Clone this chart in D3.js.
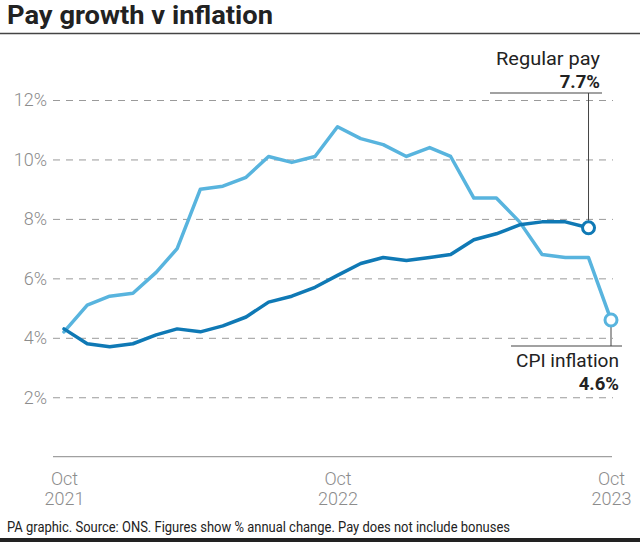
<!DOCTYPE html>
<html><head><meta charset="utf-8">
<script src="https://cdn.jsdelivr.net/npm/d3@7"></script>
<style>
body{margin:0;background:#fff;}
svg{display:block;font-family:Roboto, "Liberation Sans", sans-serif;}
</style></head>
<body>
<svg id="c" width="640" height="542"></svg>
<script>
const months = ["2021-10","2021-11","2021-12","2022-01","2022-02","2022-03","2022-04","2022-05","2022-06","2022-07","2022-08","2022-09","2022-10","2022-11","2022-12","2023-01","2023-02","2023-03","2023-04","2023-05","2023-06","2023-07","2023-08","2023-09","2023-10"];
const cpi = [4.2,5.1,5.4,5.5,6.2,7.0,9.0,9.1,9.4,10.1,9.9,10.1,11.1,10.7,10.5,10.1,10.4,10.1,8.7,8.7,7.9,6.8,6.7,6.7,4.6];
const payMonths = ["2021-10","2021-11","2021-12","2022-01","2022-02","2022-03","2022-04","2022-05","2022-06","2022-07","2022-08","2022-09","2022-10","2022-11","2022-12","2023-01","2023-02","2023-03","2023-04","2023-05","2023-06","2023-07","2023-08","2023-09"];
const regularPay = [4.3,3.8,3.7,3.8,4.1,4.3,4.2,4.4,4.7,5.2,5.4,5.7,6.1,6.5,6.7,6.6,6.7,6.8,7.3,7.5,7.8,7.9,7.9,7.7];
const yTicks = [2,4,6,8,10,12];
const xTickDates = ["2021-10","2022-10","2023-10"];
const xTickLabels = [["Oct","2021"],["Oct","2022"],["Oct","2023"]];
const title = "Pay growth v inflation";
const footer = "PA graphic. Source: ONS. Figures show % annual change. Pay does not include bonuses";
const payLabel = ["Regular pay","7.7%"];
const cpiLabel = ["CPI inflation","4.6%"];

const parse = d3.timeParse("%Y-%m");
const payData = payMonths.map((m,i)=>({d:parse(m), v:regularPay[i]}));
const cpiData = months.map((m,i)=>({d:parse(m), v:cpi[i]}));

const svg = d3.select("#c");
const cpiColor = "#58b4de", payColor = "#0f79b5";

const x = d3.scaleTime().domain([parse("2021-10"), parse("2023-10")]).range([64, 611]);
const y = d3.scaleLinear().domain([0,12]).range([456.7, 100]);

// title
svg.append("text").attr("x",7).attr("y",24).attr("font-size",25).attr("font-weight",700)
  .attr("fill","#222").attr("textLength",266).attr("lengthAdjust","spacingAndGlyphs").text(title);
svg.append("line").attr("x1",0).attr("x2",640).attr("y1",33.5).attr("y2",33.5)
  .attr("stroke","#444").attr("stroke-width",1.6);

// grid
const yAxis = d3.axisLeft(y).tickValues(yTicks).tickFormat(d=>d+"%").tickSize(-(613-53)).tickPadding(6);
const gy = svg.append("g").attr("transform","translate(53,0)").call(yAxis);
gy.select(".domain").remove();
gy.selectAll(".tick line").attr("stroke","#9a9a9a").attr("stroke-width",1).attr("stroke-dasharray","7,6");
gy.selectAll(".tick text").attr("font-size",18).attr("font-weight",300).attr("fill","#8c8c8c")
  .attr("font-family","Roboto, sans-serif").attr("x",-6);

// x axis
const xAxis = d3.axisBottom(x).tickValues(xTickDates.map(parse)).tickSize(0).tickFormat("");
const gx = svg.append("g").attr("transform","translate(0,456.7)").call(xAxis);
gx.select(".domain").attr("d","M53,0H612").attr("stroke","#a0a0a0").attr("stroke-width",1.2);
gx.selectAll(".tick").each(function(d,i){
  const t = d3.select(this).append("text").attr("text-anchor","middle").attr("font-size",18)
    .attr("font-weight",300).attr("fill","#8c8c8c").attr("font-family","Roboto, sans-serif");
  t.append("tspan").attr("x",0).attr("y",28.5).text(xTickLabels[i][0]);
  t.append("tspan").attr("x",0).attr("y",48.5).text(xTickLabels[i][1]);
});

// lines
const line = d3.line().x(d=>x(d.d)).y(d=>y(d.v));
svg.append("path").datum(cpiData).attr("d",line).attr("fill","none").attr("stroke",cpiColor)
  .attr("stroke-width",3.5).attr("stroke-linejoin","round").attr("stroke-linecap","round");
svg.append("path").datum(payData).attr("d",line).attr("fill","none").attr("stroke",payColor)
  .attr("stroke-width",3.5).attr("stroke-linejoin","round").attr("stroke-linecap","round");

// annotations
const lp = payData[payData.length-1], lc = cpiData[cpiData.length-1];
const r = 6;
svg.append("line").attr("x1",x(lp.d)).attr("x2",x(lp.d)).attr("y1",93).attr("y2",y(lp.v)-r-1)
  .attr("stroke","#444").attr("stroke-width",1);
svg.append("line").attr("x1",490).attr("x2",602).attr("y1",93).attr("y2",93).attr("stroke","#444").attr("stroke-width",1.2);
svg.append("text").attr("x",600).attr("y",65).attr("text-anchor","end").attr("font-size",18.5)
  .attr("fill","#222").attr("textLength",104).attr("lengthAdjust","spacingAndGlyphs").text(payLabel[0]);
svg.append("text").attr("x",600).attr("y",87.5).attr("text-anchor","end").attr("font-size",18.5)
  .attr("font-weight",700).attr("fill","#222").text(payLabel[1]);

svg.append("line").attr("x1",x(lc.d)).attr("x2",x(lc.d)).attr("y1",y(lc.v)+r+1).attr("y2",346)
  .attr("stroke","#444").attr("stroke-width",1);
svg.append("line").attr("x1",511).attr("x2",622).attr("y1",346).attr("y2",346).attr("stroke","#444").attr("stroke-width",1.2);
svg.append("text").attr("x",619).attr("y",367).attr("text-anchor","end").attr("font-size",18.5)
  .attr("fill","#222").attr("textLength",103).attr("lengthAdjust","spacingAndGlyphs").text(cpiLabel[0]);
svg.append("text").attr("x",619).attr("y",389.5).attr("text-anchor","end").attr("font-size",18.5)
  .attr("font-weight",700).attr("fill","#222").text(cpiLabel[1]);

svg.append("circle").attr("cx",x(lp.d)).attr("cy",y(lp.v)).attr("r",r).attr("fill","#fff")
  .attr("stroke",payColor).attr("stroke-width",3);
svg.append("circle").attr("cx",x(lc.d)).attr("cy",y(lc.v)).attr("r",r).attr("fill","#fff")
  .attr("stroke",cpiColor).attr("stroke-width",3);

// footer
svg.append("text").attr("x",7).attr("y",532).attr("font-size",14).attr("fill","#222")
  .attr("textLength",503).attr("lengthAdjust","spacingAndGlyphs").text(footer);
svg.append("rect").attr("x",0).attr("y",538).attr("width",640).attr("height",4).attr("fill","#222");
</script>
</body></html>
